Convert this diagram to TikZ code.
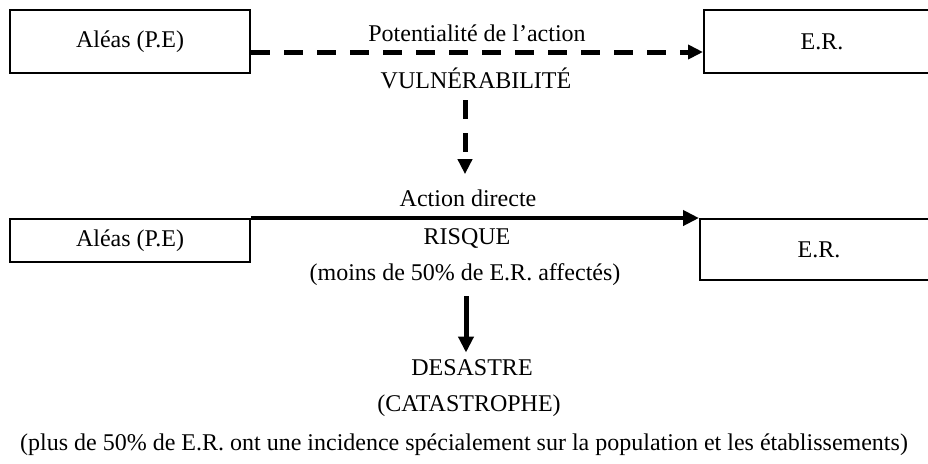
\documentclass[tikz,border=0pt]{standalone}
\usepackage{fontspec}
\setmainfont{Liberation Serif}
\usetikzlibrary{arrows.meta, calc}

\begin{document}
\begin{tikzpicture}[x=0.5pt, y=-0.5pt, font=\fontsize{12}{14}\selectfont,
		boite/.style={draw, line width=1pt, inner sep=0pt},
		txt/.style={inner sep=0pt},
		pointille/.style={line width=2.5pt, dash pattern=on 9.5pt off 7pt, -{Triangle[length=7.5pt,width=7pt]}},
		plein/.style={line width=2pt, -{Triangle[length=8pt,width=7.5pt]}}]
			\useasboundingbox (0,0) rectangle (928,463);
			% ligne du haut
			\node[boite, minimum width=120pt, minimum height=31.5pt] (a1) at (130,41.5) {Aléas (P.E)};
			\node[boite, minimum width=118pt, minimum height=31.5pt] (e1) at (822,41.5) {E.R.};
			\node[txt] (pot) at (477,33) {Potentialité de l’action};
			\node[txt] (vul) at (476,78) {VULNÉRABILITÉ};
			\draw[pointille] ($(a1.east)+(0,10.5)$) -- ($(e1.west)+(0,10.5)$);
			% ligne du bas
			\node[txt] (act) at (468,198) {Action directe};
			\node[boite, minimum width=120pt, minimum height=21.5pt] (a2) at (130,240.5) {Aléas (P.E)};
			\node[boite, minimum width=119pt, minimum height=30.5pt] (e2) at (819,249.5) {E.R.};
			\node[txt] (ris) at (467,238.5) {RISQUE};
			\node[txt] (moins) at (465,275) {(moins de 50\% de E.R. affectés)};
			\draw[pointille] ($(vul.south)+(-11,11.5)$) -- ($(act.north)+(-3,-15)$);
			\draw[plein] (a2.north east) -- (e2.north west);
			% desastre
			\node[txt] (des) at (472,368) {DESASTRE};
			\node[txt] (cat) at (469,406) {(CATASTROPHE)};
			\node[txt] (plus) at (464,445) {(plus de 50\% de E.R. ont une incidence spécialement sur la population et les établissements)};
			\draw[plein, line width=2.5pt] ($(moins.south)+(1,10)$) -- ($(des.north)+(-6,-7)$);
		\end{tikzpicture}
\end{document}
